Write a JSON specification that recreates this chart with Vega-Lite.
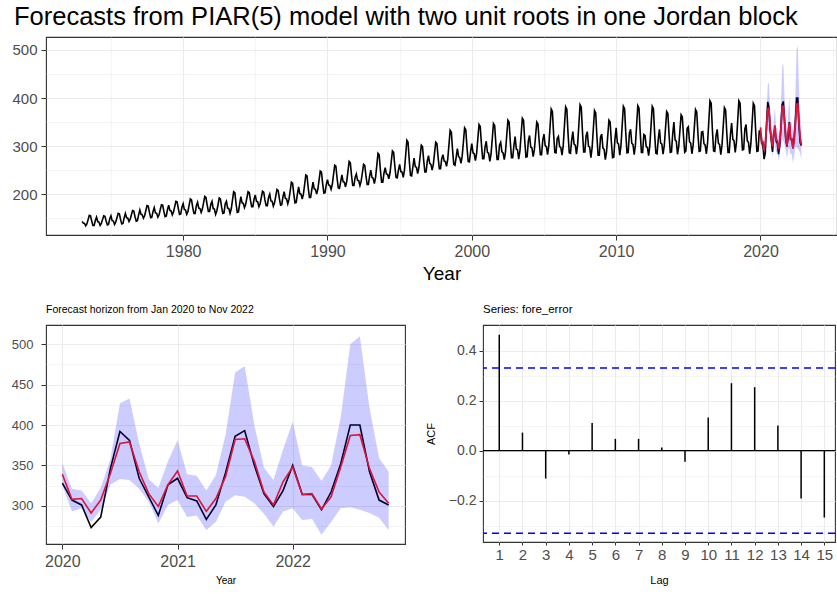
{
  "$schema": "https://vega.github.io/schema/vega-lite/v6.json",
  "padding": {"left": 0, "top": 3, "right": 0, "bottom": 0},
  "background": "white",
  "spacing": 18,
  "config": {
    "font": "Liberation Sans",
    "view": {"stroke": "#333333", "strokeWidth": 1.1},
    "axis": {"domain": false, "gridColor": "#ebebeb", "tickColor": "#333333", "labelColor": "#4d4d4d", "labelFont": "Liberation Sans", "titleFont": "Liberation Sans", "titleFontWeight": "normal", "titleColor": "#000000", "labelOverlap": false, "labelFlush": false},
    "title": {"font": "Liberation Sans", "fontWeight": "normal", "anchor": "start", "frame": "group", "color": "#000000"}
  },
  "datasets": {
    "hist": [
{"t":1973,"v":143},{"t":1973.083,"v":140},{"t":1973.167,"v":139},{"t":1973.25,"v":134},{"t":1973.333,"v":138},{"t":1973.417,"v":147},{"t":1973.5,"v":156},{"t":1973.583,"v":155},{"t":1973.667,"v":144},{"t":1973.75,"v":135},{"t":1973.833,"v":135},{"t":1973.917,"v":145},
{"t":1974,"v":152},{"t":1974.083,"v":143},{"t":1974.167,"v":142},{"t":1974.25,"v":135},{"t":1974.333,"v":139},{"t":1974.417,"v":147},{"t":1974.5,"v":155},{"t":1974.583,"v":154},{"t":1974.667,"v":144},{"t":1974.75,"v":136},{"t":1974.833,"v":137},{"t":1974.917,"v":149},
{"t":1975,"v":155},{"t":1975.083,"v":145},{"t":1975.167,"v":144},{"t":1975.25,"v":137},{"t":1975.333,"v":142},{"t":1975.417,"v":151},{"t":1975.5,"v":160},{"t":1975.583,"v":159},{"t":1975.667,"v":147},{"t":1975.75,"v":138},{"t":1975.833,"v":139},{"t":1975.917,"v":151},
{"t":1976,"v":160},{"t":1976.083,"v":151},{"t":1976.167,"v":150},{"t":1976.25,"v":143},{"t":1976.333,"v":148},{"t":1976.417,"v":157},{"t":1976.5,"v":166},{"t":1976.583,"v":165},{"t":1976.667,"v":153},{"t":1976.75,"v":144},{"t":1976.833,"v":145},{"t":1976.917,"v":157},
{"t":1977,"v":167},{"t":1977.083,"v":158},{"t":1977.167,"v":157},{"t":1977.25,"v":150},{"t":1977.333,"v":155},{"t":1977.417,"v":166},{"t":1977.5,"v":176},{"t":1977.583,"v":175},{"t":1977.667,"v":162},{"t":1977.75,"v":151},{"t":1977.833,"v":152},{"t":1977.917,"v":164},
{"t":1978,"v":172},{"t":1978.083,"v":161},{"t":1978.167,"v":160},{"t":1978.25,"v":152},{"t":1978.333,"v":157},{"t":1978.417,"v":168},{"t":1978.5,"v":178},{"t":1978.583,"v":177},{"t":1978.667,"v":164},{"t":1978.75,"v":153},{"t":1978.833,"v":154},{"t":1978.917,"v":168},
{"t":1979,"v":177},{"t":1979.083,"v":166},{"t":1979.167,"v":165},{"t":1979.25,"v":157},{"t":1979.333,"v":163},{"t":1979.417,"v":174},{"t":1979.5,"v":185},{"t":1979.583,"v":184},{"t":1979.667,"v":170},{"t":1979.75,"v":158},{"t":1979.833,"v":159},{"t":1979.917,"v":173},
{"t":1980,"v":180},{"t":1980.083,"v":168},{"t":1980.167,"v":167},{"t":1980.25,"v":158},{"t":1980.333,"v":164},{"t":1980.417,"v":177},{"t":1980.5,"v":190},{"t":1980.583,"v":188},{"t":1980.667,"v":172},{"t":1980.75,"v":160},{"t":1980.833,"v":160},{"t":1980.917,"v":176},
{"t":1981,"v":183},{"t":1981.083,"v":171},{"t":1981.167,"v":170},{"t":1981.25,"v":162},{"t":1981.333,"v":169},{"t":1981.417,"v":182},{"t":1981.5,"v":195},{"t":1981.583,"v":193},{"t":1981.667,"v":177},{"t":1981.75,"v":164},{"t":1981.833,"v":164},{"t":1981.917,"v":179},
{"t":1982,"v":185},{"t":1982.083,"v":170},{"t":1982.167,"v":169},{"t":1982.25,"v":158},{"t":1982.333,"v":165},{"t":1982.417,"v":178},{"t":1982.5,"v":192},{"t":1982.583,"v":190},{"t":1982.667,"v":173},{"t":1982.75,"v":160},{"t":1982.833,"v":161},{"t":1982.917,"v":180},
{"t":1983,"v":185},{"t":1983.083,"v":171},{"t":1983.167,"v":170},{"t":1983.25,"v":160},{"t":1983.333,"v":169},{"t":1983.417,"v":187},{"t":1983.5,"v":205},{"t":1983.583,"v":203},{"t":1983.667,"v":180},{"t":1983.75,"v":162},{"t":1983.833,"v":163},{"t":1983.917,"v":180},
{"t":1984,"v":195},{"t":1984.083,"v":182},{"t":1984.167,"v":181},{"t":1984.25,"v":172},{"t":1984.333,"v":179},{"t":1984.417,"v":192},{"t":1984.5,"v":205},{"t":1984.583,"v":203},{"t":1984.667,"v":187},{"t":1984.75,"v":174},{"t":1984.833,"v":174},{"t":1984.917,"v":190},
{"t":1985,"v":198},{"t":1985.083,"v":185},{"t":1985.167,"v":184},{"t":1985.25,"v":174},{"t":1985.333,"v":180},{"t":1985.417,"v":193},{"t":1985.5,"v":206},{"t":1985.583,"v":204},{"t":1985.667,"v":188},{"t":1985.75,"v":176},{"t":1985.833,"v":176},{"t":1985.917,"v":193},
{"t":1986,"v":200},{"t":1986.083,"v":186},{"t":1986.167,"v":185},{"t":1986.25,"v":175},{"t":1986.333,"v":182},{"t":1986.417,"v":196},{"t":1986.5,"v":210},{"t":1986.583,"v":208},{"t":1986.667,"v":191},{"t":1986.75,"v":177},{"t":1986.833,"v":178},{"t":1986.917,"v":195},
{"t":1987,"v":205},{"t":1987.083,"v":191},{"t":1987.167,"v":190},{"t":1987.25,"v":180},{"t":1987.333,"v":189},{"t":1987.417,"v":207},{"t":1987.5,"v":225},{"t":1987.583,"v":223},{"t":1987.667,"v":200},{"t":1987.75,"v":182},{"t":1987.833,"v":183},{"t":1987.917,"v":200},
{"t":1988,"v":215},{"t":1988.083,"v":201},{"t":1988.167,"v":200},{"t":1988.25,"v":190},{"t":1988.333,"v":200},{"t":1988.417,"v":220},{"t":1988.5,"v":240},{"t":1988.583,"v":238},{"t":1988.667,"v":213},{"t":1988.75,"v":193},{"t":1988.833,"v":193},{"t":1988.917,"v":210},
{"t":1989,"v":225},{"t":1989.083,"v":211},{"t":1989.167,"v":210},{"t":1989.25,"v":200},{"t":1989.333,"v":210},{"t":1989.417,"v":229},{"t":1989.5,"v":248},{"t":1989.583,"v":246},{"t":1989.667,"v":222},{"t":1989.75,"v":202},{"t":1989.833,"v":203},{"t":1989.917,"v":220},
{"t":1990,"v":230},{"t":1990.083,"v":219},{"t":1990.167,"v":218},{"t":1990.25,"v":210},{"t":1990.333,"v":220},{"t":1990.417,"v":240},{"t":1990.5,"v":260},{"t":1990.583,"v":258},{"t":1990.667,"v":233},{"t":1990.75,"v":213},{"t":1990.833,"v":212},{"t":1990.917,"v":226},
{"t":1991,"v":240},{"t":1991.083,"v":226},{"t":1991.167,"v":225},{"t":1991.25,"v":215},{"t":1991.333,"v":226},{"t":1991.417,"v":247},{"t":1991.5,"v":268},{"t":1991.583,"v":265},{"t":1991.667,"v":239},{"t":1991.75,"v":218},{"t":1991.833,"v":218},{"t":1991.917,"v":235},
{"t":1992,"v":242},{"t":1992.083,"v":229},{"t":1992.167,"v":228},{"t":1992.25,"v":218},{"t":1992.333,"v":227},{"t":1992.417,"v":244},{"t":1992.5,"v":262},{"t":1992.583,"v":260},{"t":1992.667,"v":238},{"t":1992.75,"v":220},{"t":1992.833,"v":220},{"t":1992.917,"v":237},
{"t":1993,"v":250},{"t":1993.083,"v":235},{"t":1993.167,"v":233},{"t":1993.25,"v":222},{"t":1993.333,"v":235},{"t":1993.417,"v":260},{"t":1993.5,"v":285},{"t":1993.583,"v":282},{"t":1993.667,"v":250},{"t":1993.75,"v":225},{"t":1993.833,"v":225},{"t":1993.917,"v":244},
{"t":1994,"v":255},{"t":1994.083,"v":242},{"t":1994.167,"v":241},{"t":1994.25,"v":232},{"t":1994.333,"v":244},{"t":1994.417,"v":267},{"t":1994.5,"v":290},{"t":1994.583,"v":287},{"t":1994.667,"v":258},{"t":1994.75,"v":235},{"t":1994.833,"v":234},{"t":1994.917,"v":250},
{"t":1995,"v":262},{"t":1995.083,"v":247},{"t":1995.167,"v":246},{"t":1995.25,"v":235},{"t":1995.333,"v":250},{"t":1995.417,"v":281},{"t":1995.5,"v":312},{"t":1995.583,"v":308},{"t":1995.667,"v":270},{"t":1995.75,"v":239},{"t":1995.833,"v":238},{"t":1995.917,"v":257},
{"t":1996,"v":275},{"t":1996.083,"v":257},{"t":1996.167,"v":256},{"t":1996.25,"v":243},{"t":1996.333,"v":255},{"t":1996.417,"v":278},{"t":1996.5,"v":302},{"t":1996.583,"v":299},{"t":1996.667,"v":270},{"t":1996.75,"v":246},{"t":1996.833,"v":246},{"t":1996.917,"v":269},
{"t":1997,"v":280},{"t":1997.083,"v":264},{"t":1997.167,"v":262},{"t":1997.25,"v":250},{"t":1997.333,"v":262},{"t":1997.417,"v":285},{"t":1997.5,"v":308},{"t":1997.583,"v":305},{"t":1997.667,"v":276},{"t":1997.75,"v":253},{"t":1997.833,"v":253},{"t":1997.917,"v":274},
{"t":1998,"v":282},{"t":1998.083,"v":269},{"t":1998.167,"v":268},{"t":1998.25,"v":258},{"t":1998.333,"v":273},{"t":1998.417,"v":303},{"t":1998.5,"v":333},{"t":1998.583,"v":329},{"t":1998.667,"v":292},{"t":1998.75,"v":262},{"t":1998.833,"v":260},{"t":1998.917,"v":277},
{"t":1999,"v":295},{"t":1999.083,"v":278},{"t":1999.167,"v":276},{"t":1999.25,"v":264},{"t":1999.333,"v":279},{"t":1999.417,"v":308},{"t":1999.5,"v":338},{"t":1999.583,"v":334},{"t":1999.667,"v":297},{"t":1999.75,"v":268},{"t":1999.833,"v":267},{"t":1999.917,"v":289},
{"t":2000,"v":305},{"t":2000.083,"v":286},{"t":2000.167,"v":284},{"t":2000.25,"v":270},{"t":2000.333,"v":285},{"t":2000.417,"v":315},{"t":2000.5,"v":345},{"t":2000.583,"v":341},{"t":2000.667,"v":304},{"t":2000.75,"v":274},{"t":2000.833,"v":274},{"t":2000.917,"v":298},
{"t":2001,"v":310},{"t":2001.083,"v":287},{"t":2001.167,"v":285},{"t":2001.25,"v":268},{"t":2001.333,"v":284},{"t":2001.417,"v":315},{"t":2001.5,"v":347},{"t":2001.583,"v":343},{"t":2001.667,"v":304},{"t":2001.75,"v":272},{"t":2001.833,"v":272},{"t":2001.917,"v":302},
{"t":2002,"v":308},{"t":2002.083,"v":288},{"t":2002.167,"v":286},{"t":2002.25,"v":272},{"t":2002.333,"v":288},{"t":2002.417,"v":321},{"t":2002.5,"v":354},{"t":2002.583,"v":350},{"t":2002.667,"v":309},{"t":2002.75,"v":276},{"t":2002.833,"v":276},{"t":2002.917,"v":301},
{"t":2003,"v":320},{"t":2003.083,"v":294},{"t":2003.167,"v":292},{"t":2003.25,"v":273},{"t":2003.333,"v":290},{"t":2003.417,"v":324},{"t":2003.5,"v":358},{"t":2003.583,"v":354},{"t":2003.667,"v":311},{"t":2003.75,"v":277},{"t":2003.833,"v":278},{"t":2003.917,"v":311},
{"t":2004,"v":322},{"t":2004.083,"v":298},{"t":2004.167,"v":296},{"t":2004.25,"v":278},{"t":2004.333,"v":292},{"t":2004.417,"v":321},{"t":2004.5,"v":350},{"t":2004.583,"v":346},{"t":2004.667,"v":310},{"t":2004.75,"v":282},{"t":2004.833,"v":282},{"t":2004.917,"v":313},
{"t":2005,"v":325},{"t":2005.083,"v":301},{"t":2005.167,"v":299},{"t":2005.25,"v":282},{"t":2005.333,"v":301},{"t":2005.417,"v":339},{"t":2005.5,"v":377},{"t":2005.583,"v":372},{"t":2005.667,"v":325},{"t":2005.75,"v":287},{"t":2005.833,"v":286},{"t":2005.917,"v":316},
{"t":2006,"v":320},{"t":2006.083,"v":299},{"t":2006.167,"v":297},{"t":2006.25,"v":281},{"t":2006.333,"v":301},{"t":2006.417,"v":342},{"t":2006.5,"v":382},{"t":2006.583,"v":377},{"t":2006.667,"v":326},{"t":2006.75,"v":286},{"t":2006.833,"v":285},{"t":2006.917,"v":312},
{"t":2007,"v":330},{"t":2007.083,"v":304},{"t":2007.167,"v":302},{"t":2007.25,"v":283},{"t":2007.333,"v":304},{"t":2007.417,"v":345},{"t":2007.5,"v":386},{"t":2007.583,"v":381},{"t":2007.667,"v":329},{"t":2007.75,"v":288},{"t":2007.833,"v":288},{"t":2007.917,"v":321},
{"t":2008,"v":330},{"t":2008.083,"v":300},{"t":2008.167,"v":298},{"t":2008.25,"v":276},{"t":2008.333,"v":296},{"t":2008.417,"v":335},{"t":2008.5,"v":374},{"t":2008.583,"v":369},{"t":2008.667,"v":320},{"t":2008.75,"v":281},{"t":2008.833,"v":281},{"t":2008.917,"v":319},
{"t":2009,"v":325},{"t":2009.083,"v":296},{"t":2009.167,"v":293},{"t":2009.25,"v":272},{"t":2009.333,"v":288},{"t":2009.417,"v":321},{"t":2009.5,"v":354},{"t":2009.583,"v":350},{"t":2009.667,"v":309},{"t":2009.75,"v":276},{"t":2009.833,"v":277},{"t":2009.917,"v":314},
{"t":2010,"v":338},{"t":2010.083,"v":307},{"t":2010.167,"v":304},{"t":2010.25,"v":281},{"t":2010.333,"v":301},{"t":2010.417,"v":342},{"t":2010.5,"v":383},{"t":2010.583,"v":378},{"t":2010.667,"v":327},{"t":2010.75,"v":286},{"t":2010.833,"v":287},{"t":2010.917,"v":327},
{"t":2011,"v":335},{"t":2011.083,"v":306},{"t":2011.167,"v":303},{"t":2011.25,"v":282},{"t":2011.333,"v":302},{"t":2011.417,"v":343},{"t":2011.5,"v":384},{"t":2011.583,"v":379},{"t":2011.667,"v":328},{"t":2011.75,"v":287},{"t":2011.833,"v":287},{"t":2011.917,"v":324},
{"t":2012,"v":322},{"t":2012.083,"v":299},{"t":2012.167,"v":297},{"t":2012.25,"v":280},{"t":2012.333,"v":301},{"t":2012.417,"v":342},{"t":2012.5,"v":383},{"t":2012.583,"v":378},{"t":2012.667,"v":326},{"t":2012.75,"v":285},{"t":2012.833,"v":284},{"t":2012.917,"v":314},
{"t":2013,"v":335},{"t":2013.083,"v":306},{"t":2013.167,"v":304},{"t":2013.25,"v":283},{"t":2013.333,"v":301},{"t":2013.417,"v":336},{"t":2013.5,"v":372},{"t":2013.583,"v":368},{"t":2013.667,"v":323},{"t":2013.75,"v":287},{"t":2013.833,"v":288},{"t":2013.917,"v":325},
{"t":2014,"v":350},{"t":2014.083,"v":313},{"t":2014.167,"v":310},{"t":2014.25,"v":283},{"t":2014.333,"v":299},{"t":2014.417,"v":332},{"t":2014.5,"v":365},{"t":2014.583,"v":361},{"t":2014.667,"v":320},{"t":2014.75,"v":287},{"t":2014.833,"v":290},{"t":2014.917,"v":337},
{"t":2015,"v":340},{"t":2015.083,"v":309},{"t":2015.167,"v":306},{"t":2015.25,"v":284},{"t":2015.333,"v":302},{"t":2015.417,"v":339},{"t":2015.5,"v":376},{"t":2015.583,"v":371},{"t":2015.667,"v":325},{"t":2015.75,"v":289},{"t":2015.833,"v":290},{"t":2015.917,"v":329},
{"t":2016,"v":330},{"t":2016.083,"v":305},{"t":2016.167,"v":302},{"t":2016.25,"v":284},{"t":2016.333,"v":306},{"t":2016.417,"v":350},{"t":2016.5,"v":394},{"t":2016.583,"v":389},{"t":2016.667,"v":334},{"t":2016.75,"v":290},{"t":2016.833,"v":289},{"t":2016.917,"v":321},
{"t":2017,"v":335},{"t":2017.083,"v":306},{"t":2017.167,"v":303},{"t":2017.25,"v":282},{"t":2017.333,"v":302},{"t":2017.417,"v":341},{"t":2017.5,"v":380},{"t":2017.583,"v":375},{"t":2017.667,"v":326},{"t":2017.75,"v":287},{"t":2017.833,"v":287},{"t":2017.917,"v":324},
{"t":2018,"v":348},{"t":2018.083,"v":314},{"t":2018.167,"v":311},{"t":2018.25,"v":287},{"t":2018.333,"v":308},{"t":2018.417,"v":351},{"t":2018.5,"v":394},{"t":2018.583,"v":389},{"t":2018.667,"v":335},{"t":2018.75,"v":292},{"t":2018.833,"v":293},{"t":2018.917,"v":336},
{"t":2019,"v":345},{"t":2019.083,"v":311},{"t":2019.167,"v":308},{"t":2019.25,"v":284},{"t":2019.333,"v":305},{"t":2019.417,"v":347},{"t":2019.5,"v":389},{"t":2019.583,"v":384},{"t":2019.667,"v":331},{"t":2019.75,"v":289},{"t":2019.833,"v":290},{"t":2019.917,"v":333}
    ],
    "act": [
{"t":2020,"v":328},{"t":2020.083,"v":307},{"t":2020.167,"v":301},{"t":2020.25,"v":273},{"t":2020.333,"v":286},{"t":2020.417,"v":346},{"t":2020.5,"v":392},{"t":2020.583,"v":381},{"t":2020.667,"v":334},{"t":2020.75,"v":311},{"t":2020.833,"v":288},{"t":2020.917,"v":326},
{"t":2021,"v":334},{"t":2021.083,"v":310},{"t":2021.167,"v":306},{"t":2021.25,"v":283},{"t":2021.333,"v":301},{"t":2021.417,"v":341},{"t":2021.5,"v":386},{"t":2021.583,"v":393},{"t":2021.667,"v":350},{"t":2021.75,"v":315},{"t":2021.833,"v":299},{"t":2021.917,"v":319},
{"t":2022,"v":350},{"t":2022.083,"v":314},{"t":2022.167,"v":314},{"t":2022.25,"v":295},{"t":2022.333,"v":317},{"t":2022.417,"v":352},{"t":2022.5,"v":400},{"t":2022.583,"v":400},{"t":2022.667,"v":342},{"t":2022.75,"v":307},{"t":2022.833,"v":301}
    ],
    "fcst": [
{"t":2020,"v":339},{"t":2020.083,"v":308},{"t":2020.167,"v":309},{"t":2020.25,"v":291},{"t":2020.333,"v":307},{"t":2020.417,"v":340},{"t":2020.5,"v":377},{"t":2020.583,"v":379},{"t":2020.667,"v":342},{"t":2020.75,"v":315},{"t":2020.833,"v":299},{"t":2020.917,"v":326},
{"t":2021,"v":343},{"t":2021.083,"v":312},{"t":2021.167,"v":312},{"t":2021.25,"v":293},{"t":2021.333,"v":309},{"t":2021.417,"v":336},{"t":2021.5,"v":382},{"t":2021.583,"v":383},{"t":2021.667,"v":355},{"t":2021.75,"v":317},{"t":2021.833,"v":301},{"t":2021.917,"v":330},
{"t":2022,"v":348},{"t":2022.083,"v":314},{"t":2022.167,"v":315},{"t":2022.25,"v":296},{"t":2022.333,"v":311},{"t":2022.417,"v":348},{"t":2022.5,"v":387},{"t":2022.583,"v":388},{"t":2022.667,"v":346},{"t":2022.75,"v":317},{"t":2022.833,"v":303}
    ],
    "band": [
{"t":2020,"v":325,"v2":353},{"t":2020.083,"v":293,"v2":321},{"t":2020.167,"v":297,"v2":319},{"t":2020.25,"v":280,"v2":303},{"t":2020.333,"v":295,"v2":322},{"t":2020.417,"v":326,"v2":358},{"t":2020.5,"v":333,"v2":427},{"t":2020.583,"v":332,"v2":433},{"t":2020.667,"v":321,"v2":377},{"t":2020.75,"v":305,"v2":333},{"t":2020.833,"v":278,"v2":322},{"t":2020.917,"v":301,"v2":355},
{"t":2021,"v":307,"v2":381},{"t":2021.083,"v":286,"v2":339},{"t":2021.167,"v":288,"v2":337},{"t":2021.25,"v":270,"v2":319},{"t":2021.333,"v":280,"v2":338},{"t":2021.417,"v":305,"v2":388},{"t":2021.5,"v":313,"v2":465},{"t":2021.583,"v":311,"v2":473},{"t":2021.667,"v":303,"v2":400},{"t":2021.75,"v":290,"v2":347},{"t":2021.833,"v":274,"v2":332},{"t":2021.917,"v":293,"v2":370},
{"t":2022,"v":297,"v2":404},{"t":2022.083,"v":282,"v2":350},{"t":2022.167,"v":284,"v2":348},{"t":2022.25,"v":264,"v2":331},{"t":2022.333,"v":280,"v2":350},{"t":2022.417,"v":297,"v2":410},{"t":2022.5,"v":298,"v2":500},{"t":2022.583,"v":295,"v2":510},{"t":2022.667,"v":291,"v2":421},{"t":2022.75,"v":285,"v2":359},{"t":2022.833,"v":270,"v2":342}
    ],
    "acf": [
{"lag":1,"acf":0.464},{"lag":2,"acf":0.072},{"lag":3,"acf":-0.112},{"lag":4,"acf":-0.016},{"lag":5,"acf":0.111},
{"lag":6,"acf":0.047},{"lag":7,"acf":0.047},{"lag":8,"acf":0.012},{"lag":9,"acf":-0.045},{"lag":10,"acf":0.133},
{"lag":11,"acf":0.27},{"lag":12,"acf":0.254},{"lag":13,"acf":0.101},{"lag":14,"acf":-0.192},{"lag":15,"acf":-0.268}
    ],
    "hl": [
{"acf":0,"k":"zero"},{"acf":0.3313,"k":"ci"},{"acf":-0.3313,"k":"ci"}
    ]
  },
  "vconcat": [
    {
      "width": 791,
      "height": 198,
      "title": {"text": "Forecasts from PIAR(5) model with two unit roots in one Jordan block", "fontSize": 25.5, "dx": -32, "offset": 7},
      "encoding": {
        "x": {"field": "t", "type": "quantitative", "title": "Year",
          "scale": {"domain": [1970.5, 2025.3], "nice": false, "zero": false},
          "axis": {"values": [1975, 1980, 1985, 1990, 1995, 2000, 2005, 2010, 2015, 2020, 2025], "format": "d",
            "labelExpr": "datum.value % 10 === 0 ? datum.label : ''",
            "tickOpacity": {"condition": {"test": "datum.value % 10 === 0", "value": 1}, "value": 0},
            "gridWidth": {"condition": {"test": "datum.value % 10 === 0", "value": 1.1}, "value": 0.55},
            "tickSize": 5, "labelPadding": 3, "labelFontSize": 16, "titleFontSize": 19, "titlePadding": 5}},
        "y": {"field": "v", "type": "quantitative", "title": null,
          "scale": {"domain": [115, 527], "nice": false, "zero": false},
          "axis": {"values": [150, 200, 250, 300, 350, 400, 450, 500], "format": "d",
            "labelExpr": "datum.value % 100 === 0 ? datum.label : ''",
            "tickOpacity": {"condition": {"test": "datum.value % 100 === 0", "value": 1}, "value": 0},
            "gridWidth": {"condition": {"test": "datum.value % 100 === 0", "value": 1.1}, "value": 0.55},
            "tickSize": 5, "labelPadding": 4, "labelFontSize": 15, "minExtent": 45}}
      },
      "layer": [
        {"data": {"name": "hist"}, "mark": {"type": "line", "color": "#000000", "strokeWidth": 1.6}},
        {"data": {"name": "act"}, "mark": {"type": "line", "color": "#000000", "strokeWidth": 1.6}},
        {"data": {"name": "band"}, "mark": {"type": "area", "color": "#0000ff", "opacity": 0.2}, "encoding": {"y2": {"field": "v2"}}},
        {"data": {"name": "fcst"}, "mark": {"type": "line", "color": "#dc143c", "strokeWidth": 1.8}}
      ]
    },
    {
      "hconcat": [
        {
          "width": 359,
          "height": 219,
          "title": {"text": "Forecast horizon from Jan 2020 to Nov 2022", "fontSize": 10.5, "offset": 10},
          "encoding": {
            "x": {"field": "t", "type": "quantitative", "title": "Year",
              "scale": {"domain": [2019.858, 2022.975], "nice": false, "zero": false},
              "axis": {"values": [2020, 2020.5, 2021, 2021.5, 2022, 2022.5], "format": "d",
                "labelExpr": "datum.value % 1 === 0 ? datum.label : ''",
                "tickOpacity": {"condition": {"test": "datum.value % 1 === 0", "value": 1}, "value": 0},
                "gridWidth": {"condition": {"test": "datum.value % 1 === 0", "value": 1.1}, "value": 0.55},
                "tickSize": 5, "labelPadding": 4, "labelFontSize": 16, "titleFontSize": 10, "titlePadding": 6}},
            "y": {"field": "v", "type": "quantitative", "title": null,
              "scale": {"domain": [252.6, 523.9], "nice": false, "zero": false},
              "axis": {"values": [275, 300, 325, 350, 375, 400, 425, 450, 475, 500], "format": "d",
                "labelExpr": "datum.value % 50 === 0 ? datum.label : ''",
                "tickOpacity": {"condition": {"test": "datum.value % 50 === 0", "value": 1}, "value": 0},
                "gridWidth": {"condition": {"test": "datum.value % 50 === 0", "value": 1.1}, "value": 0.55},
                "tickSize": 5, "labelPadding": 8, "labelFontSize": 13, "minExtent": 41}}
          },
          "layer": [
            {"data": {"name": "act"}, "mark": {"type": "line", "color": "#000000", "strokeWidth": 1.6}},
            {"data": {"name": "band"}, "mark": {"type": "area", "color": "#0000ff", "opacity": 0.2}, "encoding": {"y2": {"field": "v2"}}},
            {"data": {"name": "fcst"}, "mark": {"type": "line", "color": "#dc143c", "strokeWidth": 1.6}}
          ]
        },
        {
          "width": 352,
          "height": 217,
          "title": {"text": "Series: fore_error", "fontSize": 11.5, "offset": 10},
          "encoding": {
            "y": {"field": "acf", "type": "quantitative", "title": "ACF",
              "scale": {"domain": [-0.366, 0.503], "nice": false, "zero": false},
              "axis": {"values": [-0.3, -0.2, -0.1, 0, 0.1, 0.2, 0.3, 0.4], "format": ".1f",
                "labelExpr": "abs(round(datum.value * 10)) % 2 === 0 ? datum.label : ''",
                "tickOpacity": {"condition": {"test": "abs(round(datum.value * 10)) % 2 === 0", "value": 1}, "value": 0},
                "gridWidth": {"condition": {"test": "abs(round(datum.value * 10)) % 2 === 0", "value": 1.1}, "value": 0.55},
                "tickSize": 4, "labelPadding": 3, "labelFontSize": 14, "titleFontSize": 11, "titlePadding": 12}}
          },
          "layer": [
            {"data": {"name": "acf"}, "mark": {"type": "rule", "color": "#000000", "strokeWidth": 1.5},
             "encoding": {
               "x": {"field": "lag", "type": "quantitative", "title": "Lag",
                 "scale": {"domain": [0.3, 15.46], "nice": false, "zero": false},
                 "axis": {"values": [1, 2, 3, 4, 5, 6, 7, 8, 9, 10, 11, 12, 13, 14, 15], "format": "d",
                   "gridWidth": 1.1, "tickSize": 3, "labelPadding": 2, "labelFontSize": 15, "titleFontSize": 11, "titlePadding": 12}},
               "y2": {"datum": 0}}},
            {"data": {"name": "hl"}, "transform": [{"filter": "datum.k === 'zero'"}],
             "mark": {"type": "rule", "color": "#000000", "strokeWidth": 1.4}},
            {"data": {"name": "hl"}, "transform": [{"filter": "datum.k === 'ci'"}],
             "mark": {"type": "rule", "color": "#0000ff", "strokeWidth": 1.5, "strokeDash": [7, 5]}}
          ]
        }
      ],
      "spacing": 18
    }
  ]
}
